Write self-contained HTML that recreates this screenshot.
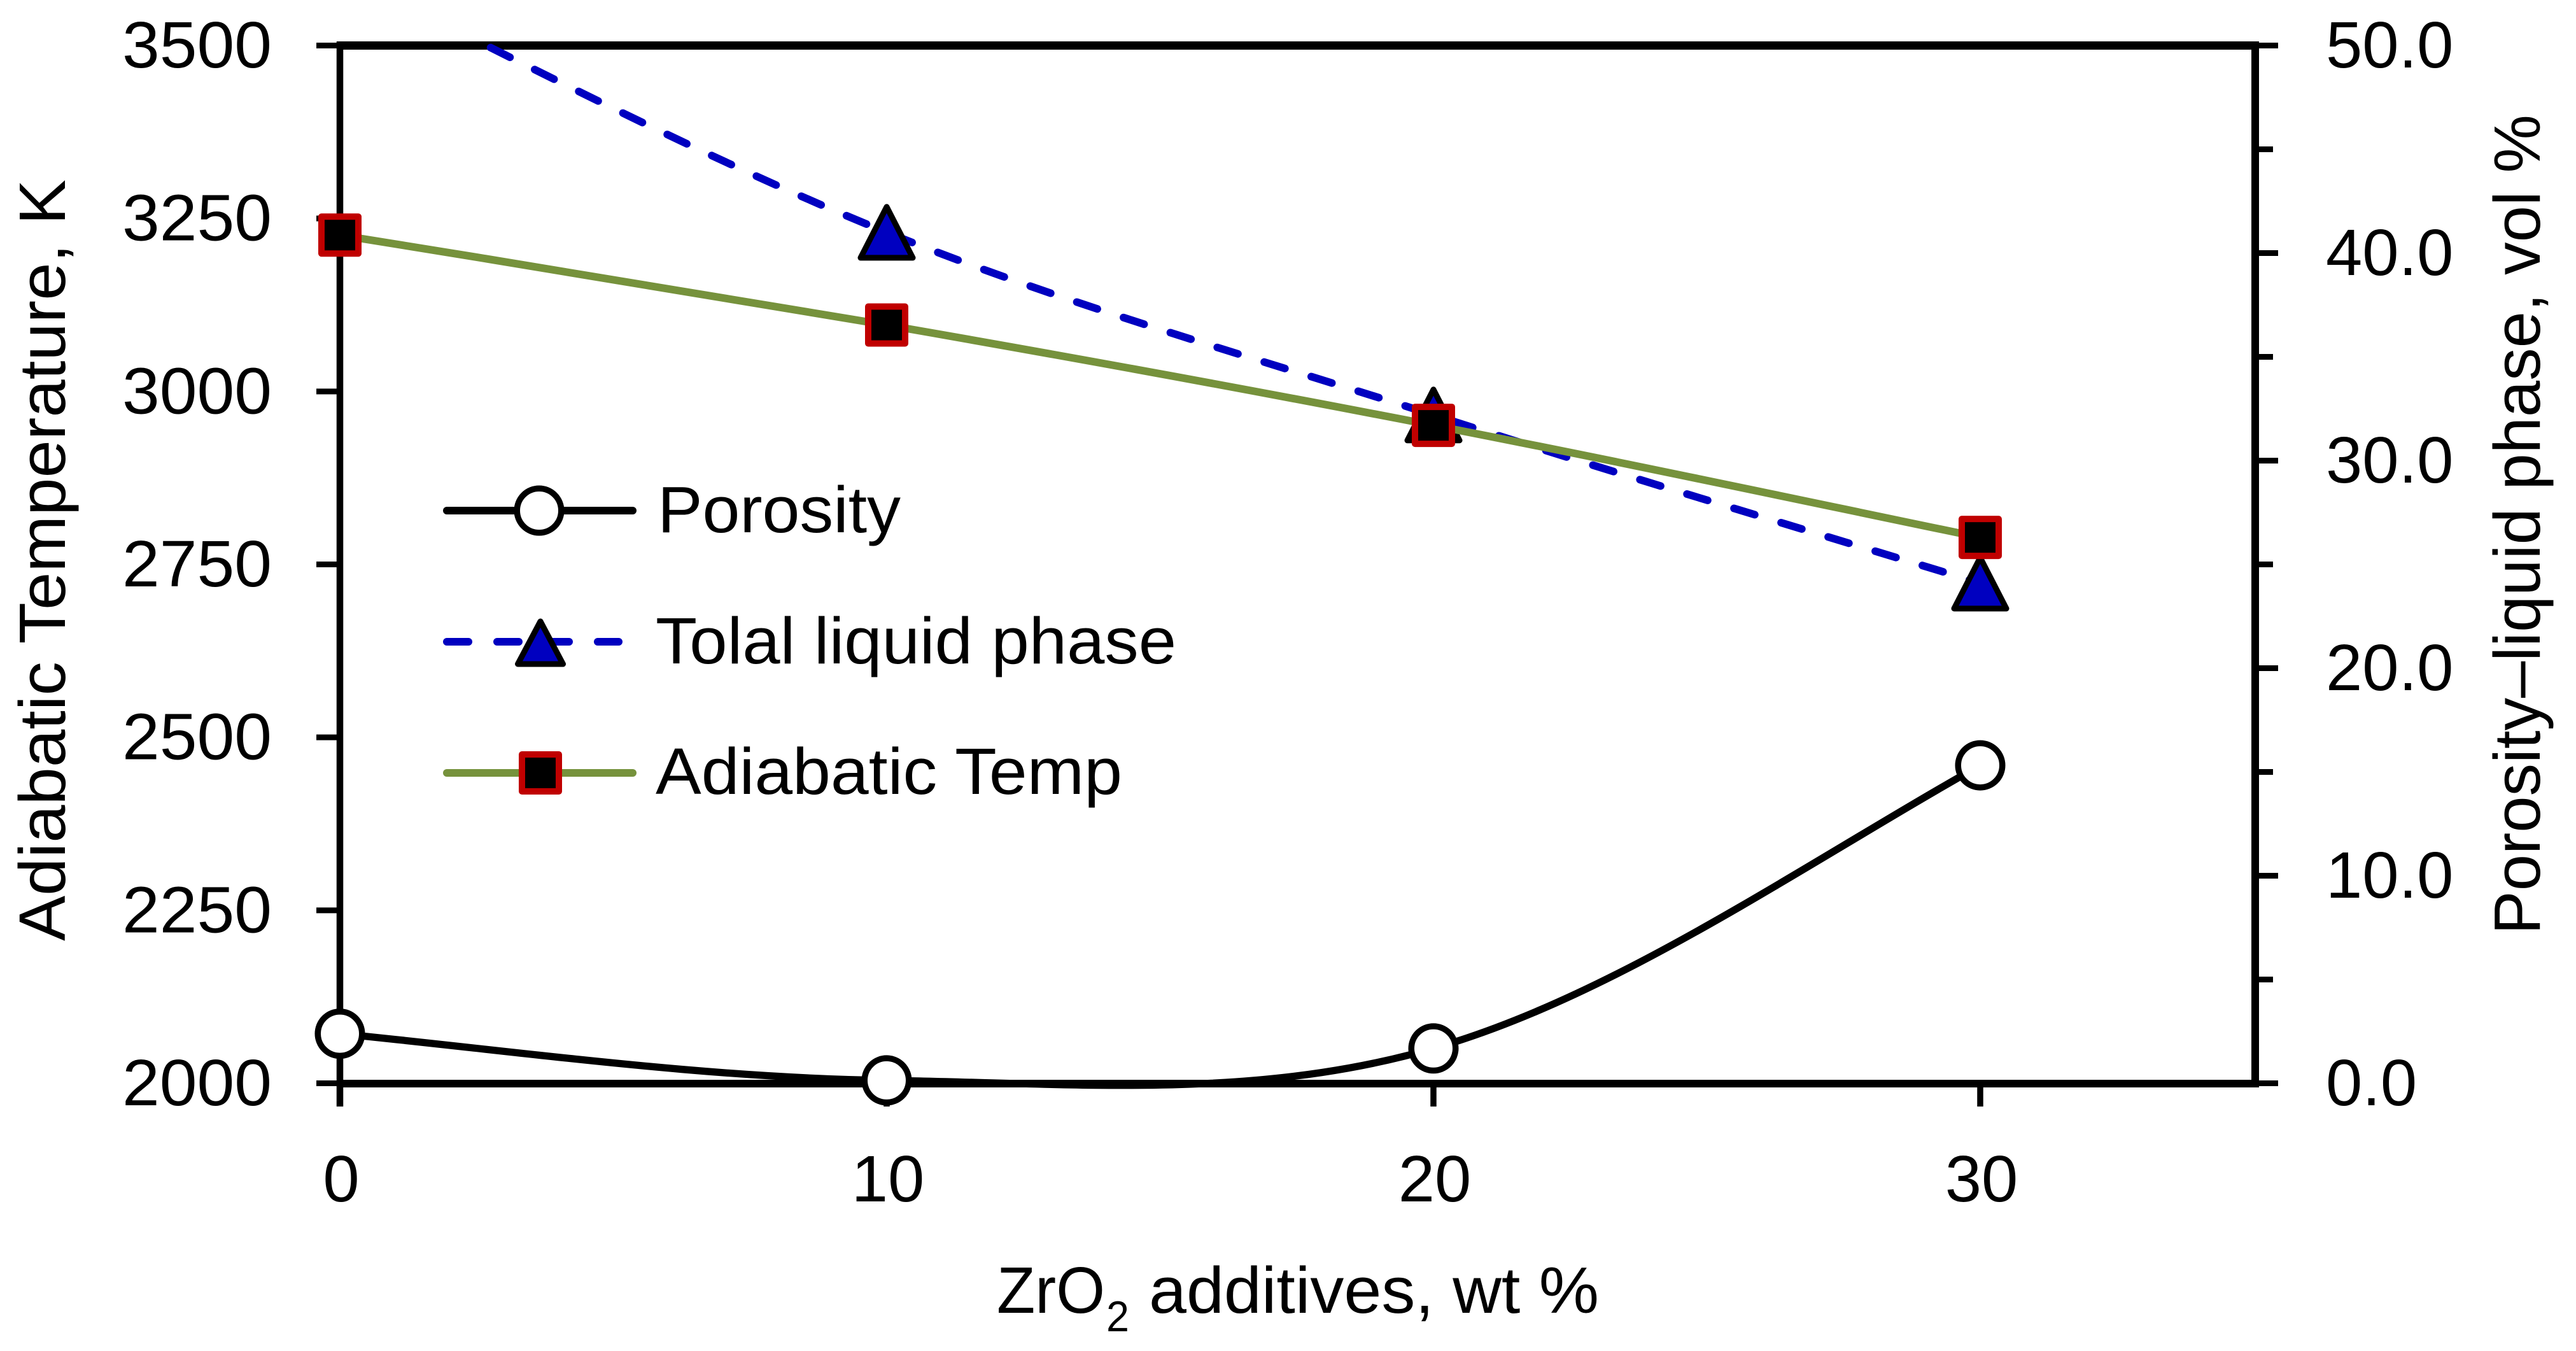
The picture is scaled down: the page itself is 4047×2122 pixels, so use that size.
<!DOCTYPE html>
<html lang="en">
<head>
<meta charset="utf-8">
<title>Adiabatic temperature, porosity and liquid phase vs ZrO2 additives</title>
<style>
html,body{margin:0;padding:0;background:#fff;}
svg{display:block;}
text{font-family:"Liberation Sans","DejaVu Sans",sans-serif;fill:#000;}
</style>
</head>
<body>
<svg id="chart" xmlns="http://www.w3.org/2000/svg" width="4047" height="2122" viewBox="0 0 4047 2122">
  <rect x="0" y="0" width="4047" height="2122" fill="#ffffff"/>
  <defs>
    <clipPath id="plot-clip"><rect x="0" y="66" width="4047" height="1700"/></clipPath>
  </defs>
  <g id="axes"></g>
  <g id="series"></g>

  <text transform="translate(102,1478) rotate(-90)" font-size="103" textLength="1196" lengthAdjust="spacingAndGlyphs">Adiabatic Temperature, K</text>
  <text transform="translate(3990,1468) rotate(-90)" font-size="103" textLength="1288" lengthAdjust="spacingAndGlyphs">Porosity–liquid phase, vol %</text>

  <g>
    <text x="1566" y="2062" font-size="103" textLength="170" lengthAdjust="spacingAndGlyphs">ZrO</text>
    <text x="1738" y="2091" font-size="68" textLength="36" lengthAdjust="spacingAndGlyphs">2</text>
    <text x="1805" y="2062" font-size="103" textLength="707" lengthAdjust="spacingAndGlyphs">additives, wt %</text>
  </g>

  <g id="legend">
    <g>
      <line x1="702" y1="802" x2="994" y2="802" stroke="#000000" stroke-width="12" stroke-linecap="round"/>
      <circle cx="847" cy="802" r="34.75" fill="#ffffff" stroke="#000000" stroke-width="9.5"/>
      <text x="1033" y="836" font-size="103" textLength="382" lengthAdjust="spacingAndGlyphs">Porosity</text>
    </g>
    <g>
      <line x1="702" y1="1008" x2="972" y2="1008" stroke="#0000c0" stroke-width="12" stroke-linecap="round" stroke-dasharray="34 45"/>
      <polygon points="849,976 884.5,1043 813.5,1043" fill="#0000c0" stroke="#000000" stroke-width="9" stroke-linejoin="round"/>
      <text x="1030" y="1042" font-size="103" textLength="818" lengthAdjust="spacingAndGlyphs">Tolal liquid phase</text>
    </g>
    <g>
      <line x1="702" y1="1214" x2="994" y2="1214" stroke="#76923c" stroke-width="12" stroke-linecap="round"/>
      <rect x="820" y="1185" width="58" height="58" fill="#000000" stroke="#c00000" stroke-width="10" stroke-linejoin="round"/>
      <text x="1030" y="1247" font-size="103" textLength="733" lengthAdjust="spacingAndGlyphs">Adiabatic Temp</text>
    </g>
  </g>
</svg>
<script>
var xValues = [0, 10, 20, 30];
var porosity = [2.39, 0.14, 1.68, 15.32];
var liquidPhase = [53.5, 41.0, 32.2, 24.1];
var adiabaticTemp = [3226, 3096, 2951, 2789];
var xTickLabels = ["0", "10", "20", "30"];
var leftTickValues = [2000, 2250, 2500, 2750, 3000, 3250, 3500];
var leftTickLabels = ["2000", "2250", "2500", "2750", "3000", "3250", "3500"];
var rightMajorValues = [0, 10, 20, 30, 40, 50];
var rightMajorLabels = ["0.0", "10.0", "20.0", "30.0", "40.0", "50.0"];
var rightMinorValues = [5, 15, 25, 35, 45];

var NS = "http://www.w3.org/2000/svg";
var plot = { left: 534, right: 3543, top: 71.5, bottom: 1701.5, xSpan: 3006.5 };
var xMax = 35;

function sx(v) { return plot.left + (v / xMax) * plot.xSpan; }
function syLeft(v) { return plot.bottom - ((v - 2000) / 1500) * (plot.bottom - plot.top); }
function syRight(v) { return plot.bottom - (v / 50) * (plot.bottom - plot.top); }

function make(tag, attrs, parent, content) {
  var el = document.createElementNS(NS, tag);
  for (var k in attrs) { el.setAttribute(k, attrs[k]); }
  if (content !== undefined) { el.textContent = content; }
  parent.appendChild(el);
  return el;
}

function smoothPath(pts) {
  var n = pts.length;
  function slope(i) { return (pts[i + 1][1] - pts[i - 1][1]) / (pts[i + 1][0] - pts[i - 1][0]); }
  var d = "M" + pts[0][0] + " " + pts[0][1];
  for (var i = 0; i < n - 1; i++) {
    var p1 = pts[i];
    var p2 = pts[i + 1];
    var dx = (p2[0] - p1[0]) / 3;
    var chord = (p2[1] - p1[1]) / (p2[0] - p1[0]);
    var s1 = i > 0 ? slope(i) : chord + 0.2 * (chord - slope(1));
    var s2 = i < n - 2 ? slope(i + 1) : chord + 0.2 * (chord - slope(n - 2));
    d += " C" + (p1[0] + dx) + " " + (p1[1] + s1 * dx) + " " + (p2[0] - dx) + " " + (p2[1] - s2 * dx) + " " + p2[0] + " " + p2[1];
  }
  return d;
}

var axes = document.getElementById("axes");
var series = document.getElementById("series");
var el;

el = make("line", { x1: plot.left, y1: 65, x2: plot.left, y2: 1738, stroke: "#000", "stroke-width": 10.5 }, axes);



el = make("line", { x1: plot.right, y1: 65, x2: plot.right, y2: 1708, stroke: "#000", "stroke-width": 12 }, axes);



el = make("line", { x1: plot.left, y1: 71.5, x2: plot.right, y2: 71.5, stroke: "#000", "stroke-width": 13 }, axes);



el = make("line", { x1: plot.left, y1: 1702, x2: plot.right, y2: 1702, stroke: "#000", "stroke-width": 12 }, axes);



xValues.forEach(function (v, i) {
  var t = make("line", { x1: sx(v), y1: plot.bottom, x2: sx(v), y2: 1738, stroke: "#000", "stroke-width": 9.5 }, axes);
  
  
  var l = make("text", { x: sx(v) + 2, y: 1887, "font-size": 103, "text-anchor": "middle" }, axes, xTickLabels[i]);
  
  
});

leftTickValues.forEach(function (v, i) {
  var t = make("line", { x1: 497, y1: syLeft(v), x2: plot.left, y2: syLeft(v), stroke: "#000", "stroke-width": 9 }, axes);
  
  
  var l = make("text", { x: 427, y: syLeft(v) + 34.5, "font-size": 103, "text-anchor": "end", textLength: 235, lengthAdjust: "spacingAndGlyphs" }, axes, leftTickLabels[i]);
  
  
});

rightMajorValues.forEach(function (v, i) {
  var t = make("line", { x1: plot.right, y1: syRight(v), x2: 3579, y2: syRight(v), stroke: "#000", "stroke-width": 9 }, axes);
  
  
  var l = make("text", { x: 3654, y: syRight(v) + 34.5, "font-size": 103 }, axes, rightMajorLabels[i]);
  
  
});

rightMinorValues.forEach(function (v) {
  var t = make("line", { x1: plot.right, y1: syRight(v), x2: 3571, y2: syRight(v), stroke: "#000", "stroke-width": 9 }, axes);
  
  
});

var porosityPts = xValues.map(function (v, i) { return [sx(v), syRight(porosity[i])]; });
var liquidPts = xValues.map(function (v, i) { return [sx(v), syRight(liquidPhase[i])]; });
var tempPts = xValues.map(function (v, i) { return [sx(v), syLeft(adiabaticTemp[i])]; });

el = make("path", { d: smoothPath(porosityPts), fill: "none", stroke: "#000000", "stroke-width": 11.3, "clip-path": "url(#plot-clip)" }, series);



var dashOn = 34;
var dashPeriod = 77.3;
var liquidLine = make("path", { d: smoothPath(liquidPts), fill: "none", stroke: "#0000c0", "stroke-width": 12, "stroke-linecap": "round", "clip-path": "url(#plot-clip)" }, series);


var dashStart = (liquidLine.getTotalLength() - 61 - dashOn) % dashPeriod;
liquidLine.setAttribute("stroke-dasharray", dashOn + " " + (dashPeriod - dashOn));
liquidLine.setAttribute("stroke-dashoffset", dashPeriod - dashStart);

liquidPts.forEach(function (p) {
  if (p[1] < plot.top) { return; }
  var pts = p[0] + "," + (p[1] - 40) + " " + (p[0] + 41) + "," + (p[1] + 40) + " " + (p[0] - 41) + "," + (p[1] + 40);
  var m = make("polygon", { points: pts, fill: "#0000c0", stroke: "#000000", "stroke-width": 9, "stroke-linejoin": "round" }, series);
  
  
});

el = make("path", { d: smoothPath(tempPts), fill: "none", stroke: "#76923c", "stroke-width": 12 }, series);



tempPts.forEach(function (p) {
  var m = make("rect", { x: p[0] - 29, y: p[1] - 29, width: 58, height: 58, fill: "#000000", stroke: "#c00000", "stroke-width": 10, "stroke-linejoin": "round" }, series);
  
  
});

porosityPts.forEach(function (p) {
  var m = make("circle", { cx: p[0], cy: p[1], r: 34.75, fill: "#ffffff", stroke: "#000000", "stroke-width": 9.5 }, series);
  
  
});
</script>
</body>
</html>
